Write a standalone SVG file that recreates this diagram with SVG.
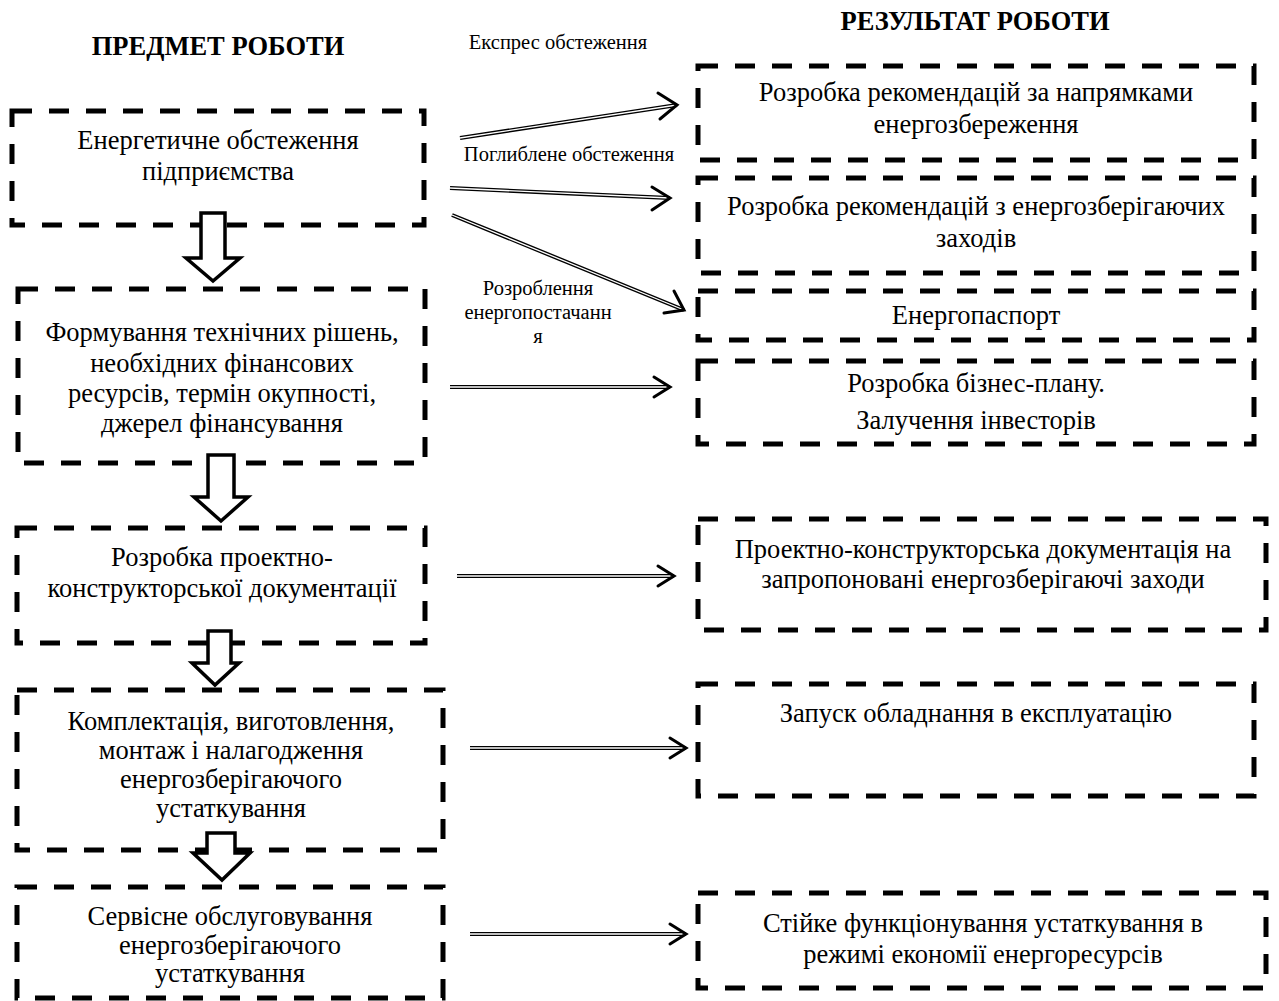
<svg xmlns="http://www.w3.org/2000/svg" width="1279" height="1001" viewBox="0 0 1279 1001">
<defs>
<style>
.box{fill:none;stroke:#000;stroke-width:5;stroke-dasharray:20 17}
.t{font-family:"Liberation Serif","Times New Roman",serif;font-size:26.5px;fill:#000;text-anchor:middle}
.h{font-family:"Liberation Serif","Times New Roman",serif;font-size:26.5px;font-weight:bold;fill:#000;text-anchor:middle}
.s{font-family:"Liberation Serif","Times New Roman",serif;font-size:20.5px;fill:#000;text-anchor:middle}
.dl{fill:none;stroke:#000;stroke-width:4}
.dw{fill:none;stroke:#fff;stroke-width:1.3}
.hd{fill:none;stroke:#000;stroke-width:3;stroke-linecap:round;stroke-linejoin:miter}
.ha{fill:#fff;stroke:#000;stroke-width:3.5;stroke-linejoin:miter}
</style>
</defs>
<rect width="1279" height="1001" fill="#fff"/>
<text class="h" x="218" y="55">ПРЕДМЕТ РОБОТИ</text>
<text class="h" x="975" y="30">РЕЗУЛЬТАТ РОБОТИ</text>

<g id="n1"><rect class="box" x="12" y="111" width="412" height="114"/><text class="t" x="218" y="149">Енергетичне обстеження</text><text class="t" x="218" y="180">підприємства</text></g>
<g id="n2"><rect class="box" x="18" y="289" width="407" height="174"/><text class="t" x="222" y="341">Формування технічних рішень,</text><text class="t" x="222" y="372">необхідних фінансових</text><text class="t" x="222" y="402">ресурсів, термін окупності,</text><text class="t" x="222" y="432">джерел фінансування</text></g>
<g id="n3"><rect class="box" x="17" y="528" width="408" height="115"/><text class="t" x="222" y="566">Розробка проектно-</text><text class="t" x="222" y="597">конструкторської документації</text></g>
<g id="n4"><rect class="box" x="17" y="690" width="426" height="160"/><text class="t" x="231" y="730">Комплектація, виготовлення,</text><text class="t" x="231" y="759">монтаж і налагодження</text><text class="t" x="231" y="788">енергозберігаючого</text><text class="t" x="231" y="817">устаткування</text></g>
<g id="n5"><rect class="box" x="17" y="887" width="426" height="111"/><text class="t" x="230" y="925">Сервісне обслуговування</text><text class="t" x="230" y="954">енергозберігаючого</text><text class="t" x="230" y="982">устаткування</text></g>

<g id="r1"><rect class="box" x="698" y="66" width="556" height="94"/><text class="t" x="976" y="101">Розробка рекомендацій за напрямками</text><text class="t" x="976" y="133">енергозбереження</text></g>
<g id="r2"><rect class="box" x="698" y="178" width="556" height="95"/><text class="t" x="976" y="215">Розробка рекомендацій з енергозберігаючих</text><text class="t" x="976" y="247">заходів</text></g>
<g id="r3"><rect class="box" x="698" y="291" width="556" height="49"/><text class="t" x="976" y="324">Енергопаспорт</text></g>
<g id="r4"><rect class="box" x="698" y="361" width="556" height="83"/><text class="t" x="976" y="392">Розробка бізнес-плану.</text><text class="t" x="976" y="429">Залучення інвесторів</text></g>
<g id="r5"><rect class="box" x="698" y="519" width="568" height="111"/><text class="t" x="983" y="558">Проектно-конструкторська документація на</text><text class="t" x="983" y="588">запропоновані енергозберігаючі заходи</text></g>
<g id="r6"><rect class="box" x="698" y="684" width="556" height="112"/><text class="t" x="976" y="722">Запуск обладнання в експлуатацію</text></g>
<g id="r7"><rect class="box" x="698" y="893" width="568" height="95"/><text class="t" x="983" y="932">Стійке функціонування устаткування в</text><text class="t" x="983" y="963">режимі економії енергоресурсів</text></g>

<g id="connectors">
<path class="ha" d="M201,213 H225 V258 H240 L213,281 L186,258 H201 Z"/>
<path class="ha" d="M208,455 H234 V497 H248 L221,521 L194,497 H208 Z"/>
<path class="ha" d="M208,631 H231 V663 H239 L215,685 L192,663 H208 Z"/>
<path class="ha" d="M207,833 H235 V853 H250 L222,880 L193,853 H207 Z"/>

<path class="dl" d="M460,138 L677,105"/><path class="dw" d="M460,138 L677,105"/>
<path class="hd" d="M658,93 L677,105 L660,119"/>
<path class="dl" d="M450,188 L670,198"/><path class="dw" d="M450,188 L670,198"/>
<path class="hd" d="M652,187 L670,198 L652,210"/>
<path class="dl" d="M452,215 L684,310"/><path class="dw" d="M452,215 L684,310"/>
<path class="hd" d="M674,291 L684,310 L664,313"/>
<path class="dl" d="M450,387 L670,387"/><path class="dw" d="M450,387 L670,387"/>
<path class="hd" d="M654,377 L670,387 L654,397"/>
<path class="dl" d="M457,576 L674,576"/><path class="dw" d="M457,576 L674,576"/>
<path class="hd" d="M658,566 L674,576 L658,586"/>
<path class="dl" d="M470,748 L686,748"/><path class="dw" d="M470,748 L686,748"/>
<path class="hd" d="M670,738 L686,748 L670,758"/>
<path class="dl" d="M470,934 L686,934"/><path class="dw" d="M470,934 L686,934"/>
<path class="hd" d="M670,924 L686,934 L670,944"/>
</g>

<text class="s" x="558" y="49">Експрес обстеження</text>
<text class="s" x="569" y="161">Поглиблене обстеження</text>
<text class="s" x="538" y="295">Розроблення</text>
<text class="s" x="538" y="319">енергопостачанн</text>
<text class="s" x="538" y="343">я</text>
</svg>
